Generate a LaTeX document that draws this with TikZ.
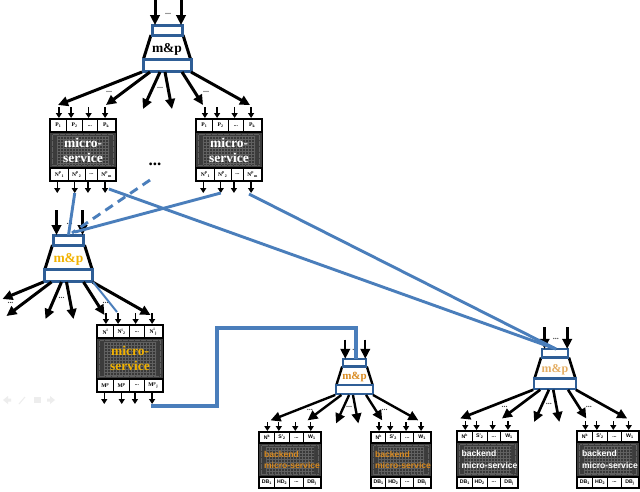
\documentclass[tikz,border=0pt]{standalone}
\usepackage{fontspec}
\setmainfont{Liberation Serif}
\newfontfamily\sansf{Liberation Sans}
\usetikzlibrary{arrows.meta}
\definecolor{mpblue}{HTML}{2F5E96}
\definecolor{linkblue}{HTML}{4A7EBB}
\definecolor{gold}{HTML}{F2B200}
\definecolor{amber}{HTML}{D98A1F}
\definecolor{chip}{HTML}{3C3C3C}
\tikzset{
  x=1pt,y=-1pt,
  bigarrow/.style={draw=black,-{Triangle[length=10pt,width=9.5pt]}},
  smallarrow/.style={draw=black,line width=1.3pt,-{Triangle[length=5pt,width=6pt]}},
  muxrect/.style={draw=mpblue,fill=white,inner sep=0pt,outer sep=0pt},
  cellbox/.style={fill=white,inner sep=0pt,outer sep=0pt,align=center},
  dotlabel/.style={inner sep=0pt,font=\bfseries\fontsize{8}{8}\selectfont,text=black!75},
  link/.style={draw=linkblue,line width=2.9pt},
  svctext/.style={inner sep=0pt,align=center,font=\bfseries\fontsize{13.5}{15}\selectfont},
  backtext/.style={inner sep=0pt,align=left,font=\sansf\bfseries\fontsize{8.6}{11.5}\selectfont},
}
\newif\ifsvcout
\svcouttrue
% name, cx, top, scale, label colour, label size, out list macro, dots list macro
\newcommand{\mpmux}[8]{%
  \begin{scope}[shift={(#2,#3)},scale=#4]
    \pgfmathsetmacro{\lw}{2.7*#4+.3}
    \draw[black,line width=\lw pt] (-16,11) -- (-23.5,35);
    \draw[black,line width=\lw pt] (16,11) -- (23.5,35);
    \node[muxrect,line width=\lw pt,minimum width={30pt*#4},minimum height={10pt*#4}] (#1-t) at (0,6) {};
    \node[muxrect,line width=\lw pt,minimum width={48pt*#4},minimum height={12pt*#4}] (#1-b) at (0,41) {};
    \node[inner sep=0pt,text=#5,font=\bfseries\fontsize{#6}{#6}\selectfont] (#1-l) at (0,25) {m\&p};
    \coordinate (#1-i1) at (-12,-24);
    \coordinate (#1-i2) at (14,-24);
    \draw[bigarrow,line width=\lw pt] (#1-i1) -- (#1-t.north -| #1-i1);
    \draw[bigarrow,line width=\lw pt] (#1-i2) -- (#1-t.north -| #1-i2);
    \node[dotlabel] (#1-d) at (1,-10) {...};
    \foreach \i/\sx/\ex/\ey in #7 {
      \coordinate (#1-o\i) at (\ex,\ey);
      \draw[bigarrow,line width=\lw pt] (\sx,48) -- (#1-o\i);
    }
    \foreach \i/\dx/\dy in #8 {
      \node[dotlabel] (#1-e\i) at (\dx,\dy) {...};
    }
  \end{scope}%
}
\def\stdout{1/-25/-109/81,2/-17/-61/81,3/-7/-24/85,4/-2/5/85,5/15/36/81,6/24/83/81}
\def\stddots{1/-58/68,2/-7/64,3/39/68}
\def\leftout{1/-25/-66/65,2/-17/-62/82,3/-7/-23/85,4/-2/5/85,5/15/36/81,6/24/82/81}
\def\leftdots{1/-58/69,2/-7/64,3/37/69}
% name, x, y, w, h, row height, arrow length, top labels, bottom labels
\newcommand{\svcblock}[9]{%
  \begin{scope}[shift={(#2,#3)}]
    \fill[black] (-.8,-.8) rectangle ({#4+.8},{#5+.8});
    \coordinate (#1-m) at ({#4/2},{#5/2});
    \pgfmathsetmacro{\mt}{#6+1.5}
    \pgfmathsetmacro{\mb}{#5-#6-1.5}
    \fill[chip] (0,\mt) rectangle (#4,\mb);
    \draw[black!62,line width=1.4pt,dash pattern=on .6pt off .6pt] (2.5,{\mt+1.5}) rectangle ({#4-2.5},{\mb-1.5});
    \fill[black!78] (7,{\mt+3}) rectangle ({#4-7},{\mb-3});
    \begin{scope}
      \clip (7,{\mt+3}) rectangle ({#4-7},{\mb-3});
      \draw[black!62,line width=.25pt,shift={(7,\mt)},step=3pt] (0,0) grid (#4,#5);
    \end{scope}
    \foreach \i/\a/\b/\t in {#8}{
      \node[cellbox,minimum width={(\b-\a)*#4*1pt},minimum height={(#6-1.8)*1pt}] (#1-tc\i) at ({(\a+\b)/2*#4},{#6/2+.4}) {\cellfont\t};
    }
    \foreach \i/\a/\b/\t in {#9}{
      \node[cellbox,minimum width={(\b-\a)*#4*1pt},minimum height={(#6-1.8)*1pt}] (#1-bc\i) at ({(\a+\b)/2*#4},{#5-#6/2-.4}) {\cellfont\t};
    }
    \foreach \i/\f in {1/.135,2/.32,3/.585,4/.835}{
      \coordinate (#1-ia\i) at ({\f*#4},{-#7});
      \draw[smallarrow] (#1-ia\i) -- ({\f*#4},-1);
    }
    \ifsvcout
    \foreach \i/\f in {1/.11,2/.375,3/.575,4/.835}{
      \coordinate (#1-oa\i) at ({\f*#4},{#5+#7});
      \draw[smallarrow] ({\f*#4},{#5+1}) -- (#1-oa\i);
    }
    \fi
  \end{scope}%
}
\newcommand{\cellfont}{\bfseries\fontsize{5.6}{6}\selectfont}
\begin{document}
\begin{tikzpicture}
\useasboundingbox (0,0) rectangle (640,491);
\fill[white] (0,0) rectangle (640,491);
% mux units
\mpmux{mA}{167}{24}{1}{black}{13.5}{\stdout}{\stddots}
\mpmux{mB}{68.5}{234}{1}{gold}{13.5}{\leftout}{\leftdots}
\mpmux{mC}{354.5}{358}{.77}{amber}{11}{\stdout}{\stddots}
\mpmux{mD}{555}{348}{.87}{amber!70!white}{12}{\stdout}{\stddots}
% services
\svcblock{sA}{50}{119}{66}{62}{12.5}{12}{1/.015/.24/{P\textsubscript{1}},2/.255/.49/{P\textsubscript{2}},3/.505/.705/{...},4/.72/.985/{P\textsubscript{k}}}{1/.015/.27/{N\textsuperscript{p}\textsubscript{1}},2/.285/.525/{N\textsuperscript{p}\textsubscript{2}},3/.54/.715/{...},4/.73/.985/{N\textsuperscript{p}\textsubscript{m}}}
\svcblock{sB}{196}{119}{66}{62}{12.5}{12}{1/.015/.24/{P\textsubscript{1}},2/.255/.49/{P\textsubscript{2}},3/.505/.705/{...},4/.72/.985/{P\textsubscript{k}}}{1/.015/.27/{N\textsuperscript{p}\textsubscript{1}},2/.285/.525/{N\textsuperscript{p}\textsubscript{2}},3/.54/.715/{...},4/.73/.985/{N\textsuperscript{p}\textsubscript{m}}}
\svcblock{sC}{97}{325}{66}{67}{12.5}{12}{1/.015/.24/{N\textsuperscript{i}},2/.255/.49/{N\textsuperscript{i}\textsubscript{2}},3/.505/.705/{...},4/.72/.985/{N\textsuperscript{i}\textsubscript{j}}}{1/.015/.24/{M\textsuperscript{p}},2/.255/.49/{M\textsuperscript{p}},3/.505/.705/{...},4/.72/.985/{M\textsuperscript{p}\textsubscript{j}}}
\renewcommand{\cellfont}{\sansf\bfseries\fontsize{5.2}{6}\selectfont}
\svcoutfalse
\svcblock{bA}{259}{432}{62}{56}{10.5}{10}{1/.015/.24/{N\textsuperscript{k}},2/.255/.49/{S'\textsubscript{2}},3/.505/.705/{...},4/.72/.985/{W\textsubscript{1}}}{1/.015/.24/{DB\textsubscript{1}},2/.255/.49/{HD\textsubscript{2}},3/.505/.705/{...},4/.72/.985/{DB\textsubscript{j}}}
\svcblock{bB}{371}{432}{60}{56}{10.5}{10}{1/.015/.24/{N\textsuperscript{k}},2/.255/.49/{S'\textsubscript{2}},3/.505/.705/{...},4/.72/.985/{W\textsubscript{1}}}{1/.015/.24/{DB\textsubscript{1}},2/.255/.49/{HD\textsubscript{2}},3/.505/.705/{...},4/.72/.985/{DB\textsubscript{j}}}
\svcblock{bC}{457}{431}{61}{57}{10.5}{10}{1/.015/.24/{N\textsuperscript{k}},2/.255/.49/{S'\textsubscript{2}},3/.505/.705/{...},4/.72/.985/{W\textsubscript{1}}}{1/.015/.24/{DB\textsubscript{1}},2/.255/.49/{HD\textsubscript{2}},3/.505/.705/{...},4/.72/.985/{DB\textsubscript{j}}}
\svcblock{bD}{577}{431}{62}{57}{10.5}{10}{1/.015/.24/{N\textsuperscript{k}},2/.255/.49/{S'\textsubscript{2}},3/.505/.705/{...},4/.72/.985/{W\textsubscript{1}}}{1/.015/.24/{DB\textsubscript{1}},2/.255/.49/{HD\textsubscript{2}},3/.505/.705/{...},4/.72/.985/{DB\textsubscript{j}}}
% service labels
\node[svctext,text=white] (tA) at (sA-m) {micro-\\service};
\node[svctext,text=white] (tB) at (sB-m) {micro-\\service};
\node[svctext,text=gold] (tC) at (sC-m) {micro-\\service};
\node[backtext,text=amber] (tD) at ([xshift=2pt]bA-m) {backend\\micro-service};
\node[backtext,text=amber] (tE) at ([xshift=2pt]bB-m) {backend\\micro-service};
\node[backtext,text=white] (tF) at ([xshift=2pt]bC-m) {backend\\micro-service};
\node[backtext,text=white] (tG) at ([xshift=2pt]bD-m) {backend\\micro-service};
\node[inner sep=0pt,font=\bfseries\fontsize{17}{17}\selectfont] (more) at (155,164) {...};
% blue links
\coordinate (jB) at (75,232);
\coordinate (jC) at (72,233);
\coordinate (fromAdash) at (150,180);
\coordinate (jD) at (556,349);
\coordinate (fromA) at (109,189);
\coordinate (fromB) at (249,194);
\coordinate (muxTap) at (93,282);
\coordinate (svcTap) at (117,312);
\coordinate (outC) at (151,406);
\coordinate (bend1) at (217,406);
\coordinate (bend2) at (217,328);
\coordinate (bend3) at (356,328);
\coordinate (inC) at (356,359);
\draw[link] (sA-oa2) -- (mB-t.north);
\draw[link,dash pattern=on 9pt off 6pt] (fromAdash) -- (jC);
\draw[link] (sB-oa2) -- (jB);
\draw[link] (fromA) -- (jD);
\draw[link] (fromB) -- (jD);
\draw[link,line width=2pt] (muxTap) -- (svcTap);
\draw[link,line width=3.2pt,line join=miter] (outC) -- (bend1) -- (bend2) -- (bend3) -- (inC);
% faint slide navigation icons
\begin{scope}[draw=black!7,fill=black!7]
  \fill (3,400) -- (8,396) -- (8,398.5) -- (11,398.5) -- (11,401.5) -- (8,401.5) -- (8,404) -- cycle;
  \draw[line width=1pt] (19,404) -- (25,397);
  \fill (34,397) rectangle (41,403);
  \fill (55,400) -- (50,396) -- (50,398.5) -- (47,398.5) -- (47,401.5) -- (50,401.5) -- (50,404) -- cycle;
\end{scope}
\end{tikzpicture}
\end{document}
